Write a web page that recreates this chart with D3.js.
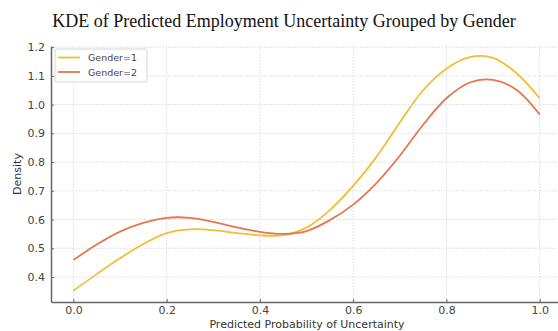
<!DOCTYPE html>
<html>
<head>
<meta charset="utf-8">
<script src="https://cdn.jsdelivr.net/npm/d3@7"></script>
<style>
  html, body { margin: 0; padding: 0; background: #fff; }
  svg { display: block; }
</style>
</head>
<body>
<svg id="chart" width="558" height="331"></svg>
<script>
// KDE grid (predicted probability) and density estimates per gender group
const xGrid = [0.00, 0.05, 0.10, 0.15, 0.20, 0.25, 0.30, 0.35, 0.40, 0.45, 0.50,
               0.55, 0.60, 0.65, 0.70, 0.75, 0.80, 0.85, 0.90, 0.95, 1.00];
const gender1 = [0.352, 0.410, 0.465, 0.515, 0.553, 0.566, 0.563, 0.553, 0.545, 0.546, 0.572,
                 0.633, 0.717, 0.818, 0.938, 1.050, 1.125, 1.165, 1.163, 1.110, 1.022];
const gender2 = [0.459, 0.513, 0.558, 0.588, 0.606, 0.606, 0.592, 0.573, 0.557, 0.550, 0.560,
                 0.598, 0.652, 0.727, 0.822, 0.930, 1.022, 1.077, 1.086, 1.052, 0.966];
const seriesNames = ["Gender=1", "Gender=2"];
const seriesColors = ["#f3bd3a", "#e6774c"];
const xTicks = [0.0, 0.2, 0.4, 0.6, 0.8, 1.0];
const yTicks = [0.4, 0.5, 0.6, 0.7, 0.8, 0.9, 1.0, 1.1, 1.2];

const svg = d3.select("#chart");
const margin = { left: 51, right: -5, top: 46, bottom: 29 };
const W = 558, H = 331;

const x = d3.scaleLinear().domain([-0.048, 1.05]).range([margin.left, W - margin.right]);
const y = d3.scaleLinear().domain([0.313, 1.204]).range([H - margin.bottom, margin.top]);

// grid
const grid = svg.append("g").attr("stroke", "#e4e4e4").attr("stroke-width", 1)
  .attr("stroke-dasharray", "2,1");
grid.selectAll(".gx").data(xTicks).join("line")
  .attr("x1", d => x(d)).attr("x2", d => x(d))
  .attr("y1", y.range()[0]).attr("y2", y.range()[1]);
grid.selectAll(".gy").data(yTicks).join("line")
  .attr("x1", x.range()[0]).attr("x2", x.range()[1])
  .attr("y1", d => y(d)).attr("y2", d => y(d));

// curves
const series = [gender1, gender2];
const line = d3.line()
  .x((d, i) => x(xGrid[i]))
  .y(d => y(d))
  .curve(d3.curveCatmullRom.alpha(0.5));
svg.append("g").selectAll("path").data(series).join("path")
  .attr("d", d => line(d))
  .attr("fill", "none")
  .attr("stroke", (d, i) => seriesColors[i])
  .attr("stroke-width", 1.8);

// axes
const tickFont = "DejaVu Sans, sans-serif";
const xAxis = d3.axisBottom(x).tickValues(xTicks).tickFormat(d3.format(".1f"))
  .tickSizeInner(-3).tickSizeOuter(0).tickPadding(4);
const gx = svg.append("g").attr("transform", `translate(0,${y.range()[0]})`).call(xAxis);
const yAxis = d3.axisLeft(y).tickValues(yTicks).tickFormat(d3.format(".1f"))
  .tickSizeInner(-3).tickSizeOuter(0).tickPadding(6);
const gy = svg.append("g").attr("transform", `translate(${x.range()[0]},0)`).call(yAxis);
[gx, gy].forEach(g => {
  g.select(".domain").attr("stroke", "#666").attr("stroke-width", 1.5);
  g.selectAll(".tick line").attr("stroke", "#666");
  g.selectAll(".tick text").attr("fill", "#444").attr("font-size", 11)
    .attr("font-family", tickFont);
});

// title and axis labels
svg.append("text")
  .attr("x", 284).attr("y", 27)
  .attr("text-anchor", "middle")
  .attr("font-family", "Liberation Serif, Times New Roman, serif")
  .attr("font-size", 18).attr("fill", "#111")
  .text("KDE of Predicted Employment Uncertainty Grouped by Gender");

svg.append("text")
  .attr("x", (x.range()[0] + x.range()[1]) / 2).attr("y", 328)
  .attr("text-anchor", "middle")
  .attr("font-family", tickFont).attr("font-size", 11).attr("fill", "#333")
  .text("Predicted Probability of Uncertainty");

svg.append("text")
  .attr("transform", `translate(21,${(y.range()[0] + y.range()[1]) / 2}) rotate(-90)`)
  .attr("text-anchor", "middle")
  .attr("font-family", tickFont).attr("font-size", 11).attr("fill", "#333")
  .text("Density");

// legend
const lg = svg.append("g").attr("transform", "translate(55,49)");
lg.append("rect").attr("width", 92).attr("height", 33).attr("rx", 2)
  .attr("fill", "#fff").attr("fill-opacity", 0.9)
  .attr("stroke", "#d6d6d6");
const items = lg.selectAll(".item").data(seriesNames).join("g")
  .attr("transform", (d, i) => `translate(0,${8.5 + i * 14.5})`);
items.append("line").attr("x1", 3).attr("x2", 25).attr("y1", 0).attr("y2", 0)
  .attr("stroke", (d, i) => seriesColors[i]).attr("stroke-width", 1.8);
items.append("text").attr("x", 33).attr("y", 3.5)
  .attr("font-family", tickFont).attr("font-size", 9.5).attr("fill", "#444")
  .text(d => d);
</script>
</body>
</html>
